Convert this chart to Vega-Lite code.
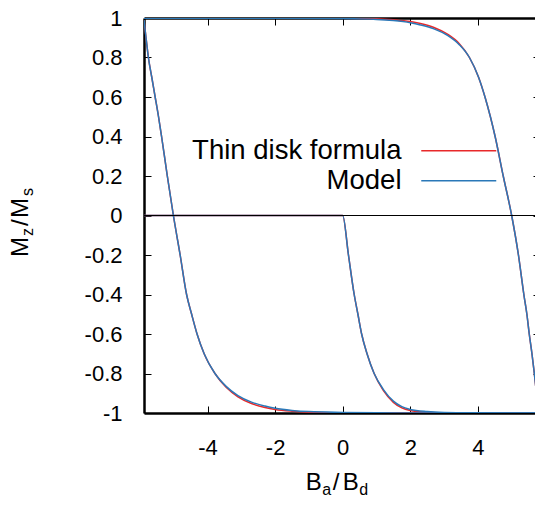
{
  "$schema": "https://vega.github.io/schema/vega-lite/v6.json",
  "width": 391,
  "height": 395,
  "autosize": {"type": "none"},
  "padding": {"left": 144, "top": 18, "right": 0, "bottom": 95},
  "background": "white",
  "config": {
    "view": {"stroke": null},
    "font": "Liberation Sans",
    "axis": {"grid": false, "labelFont": "Liberation Sans", "labelColor": "black", "domainColor": "black", "tickColor": "black"},
    "legend": {"labelFont": "Liberation Sans"},
    "text": {"font": "Liberation Sans", "color": "black"}
  },
  "datasets": {
    "thin": [
      {"series": "Thin disk formula", "branch": "A", "x": -5.88, "y": 0.99},
      {"series": "Thin disk formula", "branch": "A", "x": -5.82, "y": 0.9},
      {"series": "Thin disk formula", "branch": "A", "x": -5.75, "y": 0.8},
      {"series": "Thin disk formula", "branch": "A", "x": -5.65, "y": 0.7},
      {"series": "Thin disk formula", "branch": "A", "x": -5.55, "y": 0.6},
      {"series": "Thin disk formula", "branch": "A", "x": -5.45, "y": 0.5},
      {"series": "Thin disk formula", "branch": "A", "x": -5.36, "y": 0.4},
      {"series": "Thin disk formula", "branch": "A", "x": -5.19, "y": 0.2},
      {"series": "Thin disk formula", "branch": "A", "x": -5.01, "y": 0.0},
      {"series": "Thin disk formula", "branch": "A", "x": -4.81, "y": -0.2},
      {"series": "Thin disk formula", "branch": "A", "x": -4.62, "y": -0.4},
      {"series": "Thin disk formula", "branch": "A", "x": -4.47, "y": -0.5},
      {"series": "Thin disk formula", "branch": "A", "x": -4.31, "y": -0.6},
      {"series": "Thin disk formula", "branch": "A", "x": -4.1, "y": -0.7},
      {"series": "Thin disk formula", "branch": "A", "x": -3.78, "y": -0.8},
      {"series": "Thin disk formula", "branch": "A", "x": -3.45, "y": -0.87},
      {"series": "Thin disk formula", "branch": "A", "x": -3.1, "y": -0.918},
      {"series": "Thin disk formula", "branch": "A", "x": -2.7, "y": -0.952},
      {"series": "Thin disk formula", "branch": "A", "x": -2.3, "y": -0.972},
      {"series": "Thin disk formula", "branch": "A", "x": -2.0, "y": -0.982},
      {"series": "Thin disk formula", "branch": "A", "x": -1.5, "y": -0.991},
      {"series": "Thin disk formula", "branch": "A", "x": -1.0, "y": -0.996},
      {"series": "Thin disk formula", "branch": "A", "x": 0.0, "y": -0.999},
      {"series": "Thin disk formula", "branch": "A", "x": 2.0, "y": -1.0},
      {"series": "Thin disk formula", "branch": "A", "x": 5.7, "y": -1.0},
      {"series": "Thin disk formula", "branch": "B", "x": -5.88, "y": 0.0},
      {"series": "Thin disk formula", "branch": "B", "x": 0.0, "y": 0.0},
      {"series": "Thin disk formula", "branch": "B", "x": 0.17, "y": -0.2},
      {"series": "Thin disk formula", "branch": "B", "x": 0.34, "y": -0.4},
      {"series": "Thin disk formula", "branch": "B", "x": 0.45, "y": -0.5},
      {"series": "Thin disk formula", "branch": "B", "x": 0.56, "y": -0.6},
      {"series": "Thin disk formula", "branch": "B", "x": 0.72, "y": -0.7},
      {"series": "Thin disk formula", "branch": "B", "x": 0.93, "y": -0.8},
      {"series": "Thin disk formula", "branch": "B", "x": 1.2, "y": -0.885},
      {"series": "Thin disk formula", "branch": "B", "x": 1.5, "y": -0.946},
      {"series": "Thin disk formula", "branch": "B", "x": 1.75, "y": -0.974},
      {"series": "Thin disk formula", "branch": "B", "x": 2.0, "y": -0.987},
      {"series": "Thin disk formula", "branch": "B", "x": 2.5, "y": -0.996},
      {"series": "Thin disk formula", "branch": "B", "x": 3.0, "y": -0.999},
      {"series": "Thin disk formula", "branch": "B", "x": 5.7, "y": -1.0},
      {"series": "Thin disk formula", "branch": "C", "x": -5.88, "y": 0.999},
      {"series": "Thin disk formula", "branch": "C", "x": 0.0, "y": 0.999},
      {"series": "Thin disk formula", "branch": "C", "x": 1.0, "y": 0.996},
      {"series": "Thin disk formula", "branch": "C", "x": 1.5, "y": 0.991},
      {"series": "Thin disk formula", "branch": "C", "x": 2.0, "y": 0.982},
      {"series": "Thin disk formula", "branch": "C", "x": 2.3, "y": 0.972},
      {"series": "Thin disk formula", "branch": "C", "x": 2.7, "y": 0.952},
      {"series": "Thin disk formula", "branch": "C", "x": 3.1, "y": 0.918},
      {"series": "Thin disk formula", "branch": "C", "x": 3.45, "y": 0.87},
      {"series": "Thin disk formula", "branch": "C", "x": 3.75, "y": 0.8},
      {"series": "Thin disk formula", "branch": "C", "x": 4.02, "y": 0.7},
      {"series": "Thin disk formula", "branch": "C", "x": 4.21, "y": 0.6},
      {"series": "Thin disk formula", "branch": "C", "x": 4.37, "y": 0.5},
      {"series": "Thin disk formula", "branch": "C", "x": 4.51, "y": 0.4},
      {"series": "Thin disk formula", "branch": "C", "x": 4.75, "y": 0.2},
      {"series": "Thin disk formula", "branch": "C", "x": 5.0, "y": 0.0},
      {"series": "Thin disk formula", "branch": "C", "x": 5.2, "y": -0.2},
      {"series": "Thin disk formula", "branch": "C", "x": 5.36, "y": -0.4},
      {"series": "Thin disk formula", "branch": "C", "x": 5.45, "y": -0.5},
      {"series": "Thin disk formula", "branch": "C", "x": 5.52, "y": -0.6},
      {"series": "Thin disk formula", "branch": "C", "x": 5.6, "y": -0.7},
      {"series": "Thin disk formula", "branch": "C", "x": 5.67, "y": -0.8},
      {"series": "Thin disk formula", "branch": "C", "x": 5.72, "y": -0.88}
    ],
    "model": [
      {"series": "Model", "branch": "A", "x": -5.88, "y": 0.99},
      {"series": "Model", "branch": "A", "x": -5.82, "y": 0.9},
      {"series": "Model", "branch": "A", "x": -5.75, "y": 0.8},
      {"series": "Model", "branch": "A", "x": -5.65, "y": 0.7},
      {"series": "Model", "branch": "A", "x": -5.55, "y": 0.6},
      {"series": "Model", "branch": "A", "x": -5.45, "y": 0.5},
      {"series": "Model", "branch": "A", "x": -5.36, "y": 0.4},
      {"series": "Model", "branch": "A", "x": -5.19, "y": 0.2},
      {"series": "Model", "branch": "A", "x": -5.01, "y": 0.0},
      {"series": "Model", "branch": "A", "x": -4.81, "y": -0.2},
      {"series": "Model", "branch": "A", "x": -4.62, "y": -0.4},
      {"series": "Model", "branch": "A", "x": -4.47, "y": -0.5},
      {"series": "Model", "branch": "A", "x": -4.31, "y": -0.6},
      {"series": "Model", "branch": "A", "x": -4.1, "y": -0.7},
      {"series": "Model", "branch": "A", "x": -3.78, "y": -0.8},
      {"series": "Model", "branch": "A", "x": -3.45, "y": -0.865},
      {"series": "Model", "branch": "A", "x": -3.1, "y": -0.912},
      {"series": "Model", "branch": "A", "x": -2.7, "y": -0.945},
      {"series": "Model", "branch": "A", "x": -2.3, "y": -0.965},
      {"series": "Model", "branch": "A", "x": -2.0, "y": -0.976},
      {"series": "Model", "branch": "A", "x": -1.5, "y": -0.987},
      {"series": "Model", "branch": "A", "x": -1.0, "y": -0.993},
      {"series": "Model", "branch": "A", "x": 0.0, "y": -0.997},
      {"series": "Model", "branch": "A", "x": 1.0, "y": -0.999},
      {"series": "Model", "branch": "A", "x": 2.0, "y": -1.0},
      {"series": "Model", "branch": "A", "x": 5.7, "y": -1.0},
      {"series": "Model", "branch": "B", "x": -5.88, "y": 0.0},
      {"series": "Model", "branch": "B", "x": 0.0, "y": 0.0},
      {"series": "Model", "branch": "B", "x": 0.17, "y": -0.2},
      {"series": "Model", "branch": "B", "x": 0.34, "y": -0.4},
      {"series": "Model", "branch": "B", "x": 0.45, "y": -0.5},
      {"series": "Model", "branch": "B", "x": 0.56, "y": -0.6},
      {"series": "Model", "branch": "B", "x": 0.72, "y": -0.7},
      {"series": "Model", "branch": "B", "x": 0.93, "y": -0.8},
      {"series": "Model", "branch": "B", "x": 1.2, "y": -0.88},
      {"series": "Model", "branch": "B", "x": 1.5, "y": -0.94},
      {"series": "Model", "branch": "B", "x": 1.75, "y": -0.968},
      {"series": "Model", "branch": "B", "x": 2.0, "y": -0.982},
      {"series": "Model", "branch": "B", "x": 2.5, "y": -0.993},
      {"series": "Model", "branch": "B", "x": 3.0, "y": -0.997},
      {"series": "Model", "branch": "B", "x": 4.0, "y": -0.999},
      {"series": "Model", "branch": "B", "x": 5.7, "y": -1.0},
      {"series": "Model", "branch": "C", "x": -5.88, "y": 0.999},
      {"series": "Model", "branch": "C", "x": -2.0, "y": 0.999},
      {"series": "Model", "branch": "C", "x": 0.0, "y": 0.997},
      {"series": "Model", "branch": "C", "x": 1.0, "y": 0.993},
      {"series": "Model", "branch": "C", "x": 1.5, "y": 0.987},
      {"series": "Model", "branch": "C", "x": 2.0, "y": 0.976},
      {"series": "Model", "branch": "C", "x": 2.3, "y": 0.965},
      {"series": "Model", "branch": "C", "x": 2.7, "y": 0.945},
      {"series": "Model", "branch": "C", "x": 3.1, "y": 0.912},
      {"series": "Model", "branch": "C", "x": 3.45, "y": 0.865},
      {"series": "Model", "branch": "C", "x": 3.75, "y": 0.8},
      {"series": "Model", "branch": "C", "x": 4.02, "y": 0.7},
      {"series": "Model", "branch": "C", "x": 4.21, "y": 0.6},
      {"series": "Model", "branch": "C", "x": 4.37, "y": 0.5},
      {"series": "Model", "branch": "C", "x": 4.51, "y": 0.4},
      {"series": "Model", "branch": "C", "x": 4.75, "y": 0.2},
      {"series": "Model", "branch": "C", "x": 5.0, "y": 0.0},
      {"series": "Model", "branch": "C", "x": 5.2, "y": -0.2},
      {"series": "Model", "branch": "C", "x": 5.36, "y": -0.4},
      {"series": "Model", "branch": "C", "x": 5.45, "y": -0.5},
      {"series": "Model", "branch": "C", "x": 5.52, "y": -0.6},
      {"series": "Model", "branch": "C", "x": 5.6, "y": -0.7},
      {"series": "Model", "branch": "C", "x": 5.67, "y": -0.8},
      {"series": "Model", "branch": "C", "x": 5.72, "y": -0.88}
    ]
  },
  "layer": [
    {
      "data": {"name": "thin"},
      "mark": {"type": "line", "strokeWidth": 1.5, "clip": true, "interpolate": "monotone"},
      "encoding": {
        "x": {"field": "x", "type": "quantitative", "scale": {"domain": [-5.88, 5.69], "nice": false, "zero": false},
          "axis": {"orient": "bottom", "values": [-4, -2, 0, 2, 4], "tickSize": -7, "tickWidth": 1, "labelPadding": 31, "labelFontSize": 22, "labelFlush": false, "labelOverlap": false, "domainWidth": 2.5, "title": null,
            "labelExpr": "datum.value < 0 ? '-' + format(-datum.value, '~g') : format(datum.value, '~g')"}},
        "y": {"field": "y", "type": "quantitative", "scale": {"domain": [-1, 1], "nice": false, "zero": false},
          "axis": {"orient": "left", "values": [-1, -0.8, -0.6, -0.4, -0.2, 0, 0.2, 0.4, 0.6, 0.8, 1], "tickSize": -7, "tickWidth": 1, "labelPadding": 29, "labelFontSize": 22, "labelFlush": false, "labelOverlap": false, "domainWidth": 2.5, "title": null,
            "labelExpr": "datum.value < 0 ? '-' + format(-datum.value, '~g') : format(datum.value, '~g')"}},
        "color": {"field": "series", "type": "nominal",
          "scale": {"domain": ["Thin disk formula", "Model"], "range": ["#e8292a", "#2a78b8"]},
          "legend": {"orient": "none", "legendX": 301, "legendY": 119, "title": null, "symbolType": "M-5,0H5", "symbolSize": 225, "symbolStrokeWidth": 1.3, "labelAlign": "right", "labelOffset": -71, "labelFontSize": 27.5, "labelLimit": 500, "padding": 0, "rowPadding": 1, "labelColor": "black"}},
        "detail": {"field": "branch", "type": "nominal"}
      }
    },
    {
      "data": {"name": "model"},
      "mark": {"type": "line", "strokeWidth": 1.5, "clip": true, "interpolate": "monotone"},
      "encoding": {
        "x": {"field": "x", "type": "quantitative",
          "axis": {"orient": "top", "values": [-4, -2, 0, 2, 4], "tickSize": -7, "tickWidth": 1, "labels": false, "domainWidth": 2.5, "title": null}},
        "y": {"field": "y", "type": "quantitative",
          "axis": {"orient": "right", "values": [-1, -0.8, -0.6, -0.4, -0.2, 0, 0.2, 0.4, 0.6, 0.8, 1], "tickSize": -7, "tickWidth": 1, "labels": false, "domain": false, "offset": 5, "title": null}},
        "color": {"field": "series", "type": "nominal"},
        "detail": {"field": "branch", "type": "nominal"}
      }
    },
    {
      "data": {"values": [{}]},
      "mark": {"type": "rule", "color": "black", "strokeWidth": 1},
      "encoding": {"y": {"datum": 0, "type": "quantitative", "axis": null}}
    },
    {
      "data": {"values": [{}]},
      "mark": {"type": "text", "text": "B", "fontSize": 24, "align": "left", "baseline": "alphabetic", "dx": -37},
      "encoding": {"x": {"datum": 0, "type": "quantitative", "axis": null}, "y": {"datum": -1.39, "type": "quantitative", "axis": null}}
    },
    {
      "data": {"values": [{}]},
      "mark": {"type": "text", "text": "a", "fontSize": 16, "align": "left", "baseline": "alphabetic", "dx": -20.5, "dy": 5},
      "encoding": {"x": {"datum": 0, "type": "quantitative", "axis": null}, "y": {"datum": -1.39, "type": "quantitative", "axis": null}}
    },
    {
      "data": {"values": [{}]},
      "mark": {"type": "text", "text": "/", "fontSize": 24, "align": "left", "baseline": "alphabetic", "dx": -10},
      "encoding": {"x": {"datum": 0, "type": "quantitative", "axis": null}, "y": {"datum": -1.39, "type": "quantitative", "axis": null}}
    },
    {
      "data": {"values": [{}]},
      "mark": {"type": "text", "text": "B", "fontSize": 24, "align": "left", "baseline": "alphabetic", "dx": 0},
      "encoding": {"x": {"datum": 0, "type": "quantitative", "axis": null}, "y": {"datum": -1.39, "type": "quantitative", "axis": null}}
    },
    {
      "data": {"values": [{}]},
      "mark": {"type": "text", "text": "d", "fontSize": 16, "align": "left", "baseline": "alphabetic", "dx": 16.5, "dy": 5},
      "encoding": {"x": {"datum": 0, "type": "quantitative", "axis": null}, "y": {"datum": -1.39, "type": "quantitative", "axis": null}}
    },
    {
      "data": {"values": [{}]},
      "mark": {"type": "text", "text": "M", "fontSize": 24, "align": "left", "baseline": "alphabetic", "angle": 270, "dx": -41.5},
      "encoding": {"x": {"datum": -9.3, "type": "quantitative", "axis": null}, "y": {"datum": 0, "type": "quantitative", "axis": null}}
    },
    {
      "data": {"values": [{}]},
      "mark": {"type": "text", "text": "z", "fontSize": 16, "align": "left", "baseline": "alphabetic", "angle": 270, "dx": -20.5, "dy": 5},
      "encoding": {"x": {"datum": -9.3, "type": "quantitative", "axis": null}, "y": {"datum": 0, "type": "quantitative", "axis": null}}
    },
    {
      "data": {"values": [{}]},
      "mark": {"type": "text", "text": "/", "fontSize": 24, "align": "left", "baseline": "alphabetic", "angle": 270, "dx": -10.5},
      "encoding": {"x": {"datum": -9.3, "type": "quantitative", "axis": null}, "y": {"datum": 0, "type": "quantitative", "axis": null}}
    },
    {
      "data": {"values": [{}]},
      "mark": {"type": "text", "text": "M", "fontSize": 24, "align": "left", "baseline": "alphabetic", "angle": 270, "dx": -2.5},
      "encoding": {"x": {"datum": -9.3, "type": "quantitative", "axis": null}, "y": {"datum": 0, "type": "quantitative", "axis": null}}
    },
    {
      "data": {"values": [{}]},
      "mark": {"type": "text", "text": "s", "fontSize": 16, "align": "left", "baseline": "alphabetic", "angle": 270, "dx": 19.5, "dy": 5},
      "encoding": {"x": {"datum": -9.3, "type": "quantitative", "axis": null}, "y": {"datum": 0, "type": "quantitative", "axis": null}}
    }
  ],
  "resolve": {"axis": {"x": "independent", "y": "independent"}}
}
